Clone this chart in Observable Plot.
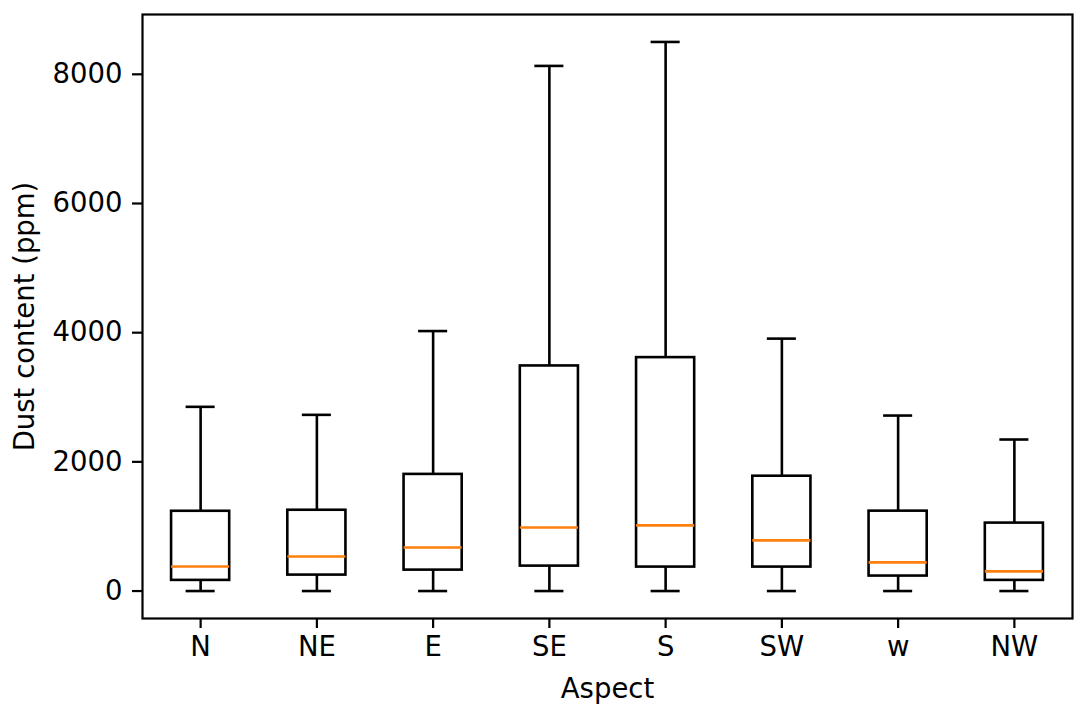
<!DOCTYPE html>
<html>
<head>
<meta charset="utf-8">
<script src="https://cdn.jsdelivr.net/npm/d3@7"></script>
<script src="https://cdn.jsdelivr.net/npm/@observablehq/plot@0.6"></script>
<style>
  html, body { margin: 0; padding: 0; background: #fff; }
</style>
</head>
<body>
<div id="chart"></div>
<script>
const aspects = ["N", "NE", "E", "SE", "S", "SW", "w", "NW"];
const whiskerLow = [0, 0, 0, 0, 0, 0, 0, 0];
const q1 = [165, 247, 324, 386, 371, 371, 232, 165];
const median = [381, 535, 675, 983, 1016, 784, 444, 305];
const q3 = [1235, 1251, 1806, 3485, 3614, 1778, 1237, 1052];
const whiskerHigh = [2852, 2728, 4025, 8130, 8501, 3908, 2717, 2346];
const yTicks = [0, 2000, 4000, 6000, 8000];

const data = aspects.map((a, k) => ({
  aspect: a, i: k + 1,
  lo: whiskerLow[k], q1: q1[k], med: median[k], q3: q3[k], hi: whiskerHigh[k]
}));

const boxHalf = 0.25, capHalf = 0.125;
const lw = 2.6;
const tickFont = 27.5;
const labelFont = 27.5;

const chart = Plot.plot({
  width: 1086,
  height: 717,
  marginLeft: 142,
  marginRight: 14,
  marginTop: 14,
  marginBottom: 99,
  style: { fontFamily: "DejaVu Sans", fontSize: tickFont + "px", color: "black", background: "white" },
  x: { domain: [0.5, 8.5] },
  y: { domain: [-425, 8926] },
  marks: [
    Plot.ruleX(data, { x: "i", y1: "q3", y2: "hi", stroke: "black", strokeWidth: lw }),
    Plot.ruleX(data, { x: "i", y1: "lo", y2: "q1", stroke: "black", strokeWidth: lw }),
    Plot.ruleY(data, { y: "hi", x1: d => d.i - capHalf, x2: d => d.i + capHalf, stroke: "black", strokeWidth: lw }),
    Plot.ruleY(data, { y: "lo", x1: d => d.i - capHalf, x2: d => d.i + capHalf, stroke: "black", strokeWidth: lw }),
    Plot.rect(data, { x1: d => d.i - boxHalf, x2: d => d.i + boxHalf, y1: "q1", y2: "q3", fill: "none", stroke: "black", strokeWidth: lw }),
    Plot.ruleY(data, { y: "med", x1: d => d.i - boxHalf, x2: d => d.i + boxHalf, stroke: "#ff7f0e", strokeWidth: lw }),
    Plot.frame({ stroke: "black", strokeWidth: 2.2 }),
    Plot.axisX({ ticks: data.map(d => d.i), tickFormat: d => aspects[d - 1], tickSize: 10, tickPadding: 8, label: null, fontSize: tickFont, strokeWidth: 2.2 }),
    Plot.axisY({ ticks: yTicks, tickFormat: d => String(d), tickSize: 10, tickPadding: 10, label: null, fontSize: tickFont, strokeWidth: 2.2 }),
    Plot.text(["Aspect"], { frameAnchor: "bottom", dy: 71, textAnchor: "middle", lineAnchor: "middle", text: d => d, fontSize: labelFont, fill: "black" }),
    Plot.text(["Dust content (ppm)"], { frameAnchor: "left", dx: -117, rotate: -90, textAnchor: "middle", lineAnchor: "middle", text: d => d, fontSize: labelFont, fill: "black" })
  ]
});
document.getElementById("chart").appendChild(chart);
</script>
</body>
</html>
